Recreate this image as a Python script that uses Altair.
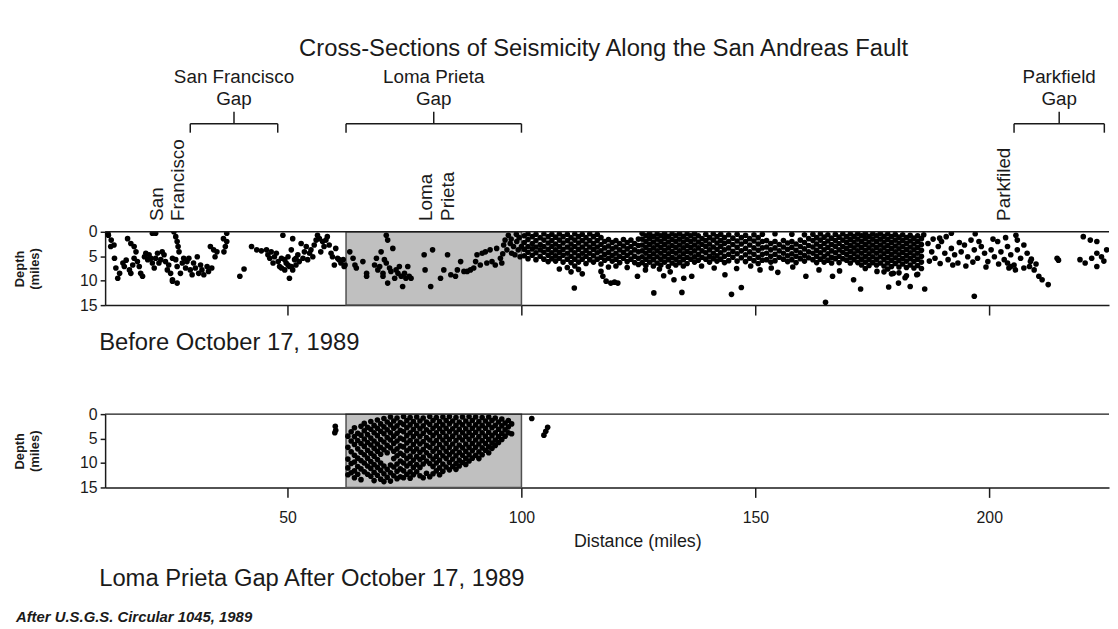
import altair as alt
import pandas as pd

# ---------------- text ----------------
TITLE = "Cross-Sections of Seismicity Along the San Andreas Fault"
SUB_BEFORE = "Before October 17, 1989"
SUB_AFTER = "Loma Prieta Gap After October 17, 1989"
SOURCE = "After U.S.G.S. Circular 1045, 1989"

# ---------------- axes ----------------
x_ticks = [50, 100, 150, 200]
y_ticks = [0, 5, 10, 15]
x_domain = [11, 225.6]
y_domain = [0, 15]

# ---------------- annotations ----------------
gap_names = ["San Francisco\nGap", "Loma Prieta\nGap", "Parkfield\nGap"]
gap_start = [29.2, 62.5, 205.3]
gap_end = [47.9, 100.0, 224.6]

place_names = ["San\nFrancisco", "Loma\nPrieta", "Parkfiled"]
place_miles = [22.0, 79.6, 203.2]

shade_start = [62.5]
shade_end = [100.0]

# ---------------- seismicity before Oct 17, 1989 (mile, depth) ----------------
before_north = [
    (11.6, 0.3), (11.7, 0.7), (12.3, 1.7), (12.9, 2.7), (12.2, 3.0), (15.8, 1.4), (16.5, 2.4),
    (17.2, 3.0), (17.6, 4.1), (13.0, 5.4), (13.3, 7.4), (14.1, 8.5), (13.7, 9.5), (14.8, 6.4),
    (15.1, 7.1), (15.5, 5.8), (16.2, 7.8), (16.5, 8.5), (16.9, 6.8), (17.2, 5.4), (17.9, 6.1),
    (18.3, 7.1), (18.6, 8.5), (19.0, 9.1), (19.4, 5.1), (19.7, 4.4), (20.1, 5.7), (20.4, 4.7),
    (20.8, 5.4), (21.1, 6.4), (21.5, 7.4), (21.8, 5.4), (22.2, 4.4), (21.1, 0.3), (21.8, 0.3),
    (22.5, 6.4), (22.9, 5.7), (23.2, 4.1), (23.6, 4.7), (23.9, 6.1), (24.3, 7.8), (24.6, 6.8),
    (25.0, 8.5), (25.4, 9.8), (25.7, 0.0), (26.1, 1.0), (26.4, 2.0), (26.6, 3.0), (26.8, 4.1),
    (25.4, 5.4), (26.1, 5.7), (26.4, 7.1), (27.1, 8.5), (27.5, 6.4), (27.8, 5.4), (28.2, 7.4),
    (28.5, 6.1), (28.9, 5.4), (29.2, 7.8), (29.6, 8.8), (29.9, 6.4), (30.3, 7.4), (30.7, 5.1),
    (31.0, 8.5), (31.4, 6.8), (31.7, 7.8), (32.1, 8.8), (25.4, 10.1), (26.4, 10.5), (32.8, 7.1),
    (33.1, 8.1), (33.5, 3.0), (33.8, 7.4), (34.2, 3.7), (34.5, 5.1), (34.9, 4.1), (36.3, 1.4),
    (36.7, 3.0), (37.0, 2.0), (36.4, 4.1), (37.0, 0.3),
    (39.8, 9.1), (40.7, 7.6), (42.3, 3.0), (43.4, 3.7), (44.4, 3.9), (45.5, 3.7), (45.8, 4.7),
    (46.2, 5.4), (46.5, 4.1), (46.9, 6.4), (47.2, 5.1), (47.6, 4.4), (48.0, 6.1), (48.3, 7.1),
    (48.7, 5.4), (49.0, 0.7), (49.4, 7.8), (49.7, 6.4), (50.1, 5.1), (50.4, 7.1), (50.4, 9.5),
    (50.8, 3.7), (51.1, 1.4), (51.5, 5.7), (51.8, 6.8), (52.2, 4.7), (52.5, 6.1), (52.9, 2.4),
    (53.3, 5.4), (53.6, 4.1), (54.0, 3.0), (54.3, 5.7), (54.7, 4.4), (55.0, 3.7), (55.4, 5.1),
    (55.7, 2.7), (56.1, 1.7), (56.4, 0.7), (56.8, 1.4), (57.1, 4.1), (57.5, 2.0), (57.8, 3.0),
    (58.2, 1.7), (58.5, 1.0), (58.9, 2.7), (59.3, 4.4), (59.6, 5.1), (60.0, 6.8), (60.3, 3.4),
    (60.7, 5.4), (61.0, 5.7), (61.4, 6.4), (62.1, 7.1), (48.7, 7.4), (49.4, 5.7), (50.8, 7.1),
    (51.1, 7.8), (51.8, 5.4), (50.1, 6.8),
]

before_loma = [
    (61.9, 5.7), (62.3, 6.8), (63.3, 4.1), (64.0, 5.4), (64.4, 6.8), (64.7, 7.4), (66.1, 6.1),
    (66.9, 8.5), (66.9, 9.1), (68.6, 6.8), (69.0, 5.4), (69.7, 7.1), (70.0, 4.1), (70.4, 8.5),
    (70.7, 5.7), (71.1, 6.4), (71.4, 10.5), (71.8, 7.4), (72.1, 8.1), (72.5, 3.4), (72.9, 9.5),
    (73.2, 7.8), (73.6, 8.5), (73.9, 7.1), (74.3, 9.1), (74.6, 11.2), (75.0, 8.5), (75.3, 9.5),
    (75.7, 7.1), (76.0, 9.1), (76.4, 9.5), (71.1, 0.7), (71.4, 1.7), (70.4, 9.1), (69.3, 7.8),
    (79.2, 4.7), (79.4, 7.8), (80.6, 11.2), (81.0, 3.7), (82.7, 9.5), (83.4, 7.8), (84.2, 4.7),
    (84.9, 8.8), (85.9, 9.1), (86.3, 7.8), (87.0, 6.1), (87.7, 8.1), (88.4, 8.1), (89.1, 7.8),
    (89.8, 7.4), (90.2, 6.1), (90.5, 4.7), (91.2, 6.8), (91.6, 4.4), (92.3, 4.1), (92.6, 6.4),
    (93.3, 3.7), (93.7, 6.1), (94.4, 6.8), (94.7, 3.4), (95.5, 5.4), (95.8, 6.4), (96.2, 2.7),
    (96.5, 1.7), (96.9, 3.7), (97.2, 0.7), (97.6, 2.4), (97.9, 4.4), (98.3, 3.0), (98.6, 4.7),
    (99.0, 2.0), (99.3, 3.7), (99.7, 5.1), (100.0, 3.0), (97.8, 1.5), (98.9, 0.5), (99.5, 1.2),
    (96.0, 4.5),
]

# dense band, listed as (mile, [depths])
band_100_125 = [
    (100.6, [0.8, 2.2, 3.6, 4.9]), (101.4, [0.4, 1.6, 3.0, 4.2, 5.5]),
    (102.3, [1.0, 2.4, 3.5, 4.8]), (103.1, [0.5, 1.8, 3.1, 4.3, 5.7]),
    (104.0, [1.2, 2.6, 3.7, 5.0]), (104.8, [0.4, 1.7, 3.0, 4.2, 5.6]),
    (105.7, [1.0, 2.3, 3.6, 4.8, 6.1]), (106.5, [0.5, 1.8, 3.0, 4.3, 5.5]),
    (107.3, [1.1, 2.5, 3.7, 4.9, 6.0]), (108.1, [0.4, 1.7, 3.0, 4.2, 5.4, 7.6]),
    (108.9, [1.0, 2.3, 3.6, 4.8, 6.2]), (109.8, [0.5, 1.8, 3.1, 4.4, 5.6, 7.3]),
    (110.6, [1.2, 2.5, 3.7, 5.0, 6.3, 8.2]), (111.4, [0.4, 1.7, 3.0, 4.3, 5.6, 7.0]),
    (112.2, [1.0, 2.3, 3.6, 4.9, 6.2, 7.7]), (113.0, [0.5, 1.8, 3.1, 4.4, 5.6, 8.6]),
    (113.8, [1.2, 2.5, 3.8, 5.0, 6.5]), (114.6, [0.4, 1.8, 3.1, 4.4, 5.7]),
    (115.4, [1.0, 2.4, 3.6, 4.9, 6.2]), (116.2, [0.5, 1.8, 3.1, 4.3, 5.6]),
    (117.0, [1.2, 2.6, 3.9, 5.2, 6.6]), (117.8, [2.0, 3.3, 4.6, 5.8]),
    (118.6, [1.6, 2.9, 4.2, 5.4, 7.2]), (119.4, [2.2, 3.5, 4.8, 6.0]),
    (120.2, [1.8, 3.1, 4.4, 5.6, 7.0]), (121.0, [2.4, 3.7, 5.0, 6.3]),
    (121.8, [1.6, 2.9, 4.2, 5.4]), (122.6, [2.2, 3.5, 4.8, 6.1, 7.3]),
    (123.4, [1.7, 3.0, 4.3, 5.6]), (124.2, [2.4, 3.7, 5.0, 6.3]),
    (125.0, [1.5, 2.8, 4.1, 5.4, 6.7]),
]

band_125_144 = [
    (125.8, [0.3, 1.5, 2.7, 3.9, 5.1, 6.3]), (126.6, [0.8, 2.0, 3.2, 4.4, 5.6, 6.9]),
    (127.4, [0.3, 1.4, 2.6, 3.8, 5.0, 6.2]), (128.2, [0.9, 2.1, 3.3, 4.5, 5.7, 7.0]),
    (129.0, [0.4, 1.5, 2.7, 3.9, 5.1, 6.4]), (129.8, [0.8, 2.0, 3.2, 4.4, 5.6, 6.8]),
    (130.6, [0.3, 1.4, 2.6, 3.8, 5.0, 6.2]), (131.4, [0.9, 2.1, 3.3, 4.5, 5.7, 7.1]),
    (132.2, [0.4, 1.6, 2.8, 4.0, 5.2, 6.4]), (133.0, [0.8, 2.0, 3.2, 4.4, 5.6, 6.8]),
    (133.8, [0.3, 1.5, 2.7, 3.9, 5.1, 6.3]), (134.6, [0.9, 2.1, 3.3, 4.5, 5.7, 7.0]),
    (135.4, [0.4, 1.6, 2.8, 4.0, 5.2, 6.5]), (136.2, [0.8, 2.0, 3.2, 4.4, 5.6]),
    (137.0, [0.3, 1.5, 2.7, 3.9, 5.1, 6.2]), (137.8, [0.8, 2.1, 3.3, 4.6, 5.8]),
    (138.6, [1.4, 2.6, 3.9, 5.2]), (139.4, [0.5, 1.8, 3.0, 4.3, 5.6]),
    (140.2, [1.2, 2.5, 3.7, 5.0, 6.2]), (141.0, [0.4, 1.7, 3.1, 4.4, 5.5]),
    (141.8, [1.0, 2.3, 3.6, 4.9, 6.0]), (142.6, [0.5, 1.8, 3.0, 4.3, 5.6]),
    (143.4, [1.2, 2.4, 3.7, 5.0, 6.3]),
]

band_144_169 = [
    (144.3, [0.6, 2.0, 3.3, 4.6, 5.9]), (145.2, [1.3, 2.6, 4.0, 5.2]),
    (146.1, [0.5, 1.9, 3.2, 4.5, 6.0]), (147.0, [1.2, 2.5, 3.9, 5.3]),
    (147.9, [0.7, 2.0, 3.4, 4.7, 6.1]), (148.8, [1.4, 2.7, 4.1, 5.4]),
    (149.7, [0.6, 1.9, 3.3, 4.6, 5.9]), (150.6, [1.2, 2.5, 3.8, 5.2, 6.5]),
    (151.5, [0.5, 2.0, 3.3, 4.6, 5.8]), (152.4, [1.8, 3.1, 4.4, 5.7]),
    (153.3, [2.4, 3.7, 5.0, 6.2]), (154.2, [0.4, 2.0, 3.3, 4.6, 5.9]),
    (155.1, [2.6, 3.9, 5.2]), (156.0, [1.8, 3.1, 4.4, 5.6]),
    (156.9, [2.3, 3.6, 4.9, 6.1]), (157.8, [0.5, 2.0, 3.2, 4.5, 5.7]),
    (158.7, [2.5, 3.8, 5.0, 6.3]), (159.6, [1.7, 3.0, 4.3, 5.5]),
    (160.5, [0.6, 2.2, 3.5, 4.8, 6.0]), (161.4, [1.4, 2.8, 4.1, 5.3]),
    (162.3, [0.5, 1.8, 3.1, 4.4, 5.7]), (163.1, [1.2, 2.5, 3.8, 5.0, 6.3]),
    (163.9, [0.4, 1.7, 3.0, 4.3, 5.6]), (164.7, [1.1, 2.4, 3.7, 5.0, 6.2]),
    (165.5, [0.6, 1.9, 3.2, 4.5, 5.8]), (166.3, [1.3, 2.6, 3.9, 5.2, 6.4]),
    (167.1, [0.5, 1.8, 3.0, 4.3, 5.5]), (167.9, [1.1, 2.4, 3.7, 5.0, 6.3]),
    (168.7, [0.4, 1.7, 3.0, 4.2, 5.5]),
]

band_169_186 = [
    (169.5, [1.0, 2.2, 3.4, 4.6, 5.8]), (170.3, [0.4, 1.6, 2.8, 4.0, 5.2, 6.4]),
    (171.1, [0.9, 2.1, 3.3, 4.5, 5.7]), (171.9, [0.3, 1.5, 2.7, 3.9, 5.1, 6.3]),
    (172.7, [0.8, 2.0, 3.2, 4.4, 5.6, 6.8]), (173.5, [0.3, 1.4, 2.6, 3.8, 5.0, 6.2]),
    (174.3, [0.9, 2.1, 3.3, 4.5, 5.7, 6.9]), (175.1, [0.4, 1.5, 2.7, 3.9, 5.1, 6.3]),
    (175.9, [0.8, 2.0, 3.2, 4.4, 5.6, 6.8]), (176.7, [0.3, 1.5, 2.7, 3.9, 5.1, 6.4]),
    (177.5, [0.9, 2.1, 3.3, 4.5, 5.7, 7.0, 8.2]), (178.3, [0.4, 1.6, 2.8, 4.0, 5.2, 6.4, 7.6]),
    (179.1, [1.0, 2.2, 3.4, 4.6, 5.8, 7.1, 8.6]), (179.9, [0.5, 1.7, 2.9, 4.1, 5.3, 6.5]),
    (180.7, [1.1, 2.3, 3.5, 4.7, 5.9, 7.2, 8.4]), (181.5, [0.6, 1.8, 3.0, 4.2, 5.4, 6.6]),
    (182.3, [1.2, 2.4, 3.6, 4.8, 6.0, 7.3, 9.0]), (183.1, [0.7, 1.9, 3.1, 4.3, 5.5, 6.8]),
    (183.9, [1.3, 2.5, 3.7, 4.9, 6.1, 7.4]), (184.7, [0.8, 2.0, 3.2, 4.4, 5.6, 6.9, 8.7]),
    (185.5, [1.4, 2.6, 3.8, 5.0, 6.2, 7.5]),
]

before_deep = [
    (111.3, 11.5), (117.0, 8.1), (117.4, 9.1), (118.1, 10.1), (119.1, 10.5), (119.9, 10.3),
    (120.6, 10.5), (124.8, 9.1), (128.3, 12.5), (130.4, 9.0), (132.6, 9.8), (134.3, 12.4),
    (134.7, 9.5), (136.4, 9.1), (143.5, 8.8), (144.9, 12.8), (147.0, 11.4), (153.4, 7.4),
    (154.8, 8.3), (160.8, 9.1), (163.6, 7.8), (165.0, 14.4), (166.5, 9.1), (171.0, 9.8),
    (172.5, 11.7), (176.0, 8.1), (178.5, 11.3), (180.6, 10.5), (183.1, 11.2), (186.2, 11.7),
    (126.5, 7.8), (129.5, 7.6), (131.8, 8.2), (138.5, 7.0), (141.2, 7.4), (146.0, 7.5),
    (149.0, 7.0), (151.0, 7.8), (158.0, 7.2), (168.0, 8.0), (173.5, 7.5), (179.5, 8.5),
    (182.0, 9.4), (184.5, 8.8), (196.8, 13.2),
]

before_south = [
    (186.9, 2.4), (187.7, 4.1), (188.4, 5.4), (189.1, 3.0), (189.8, 2.0), (190.5, 4.4),
    (191.2, 5.7), (191.9, 3.4), (192.6, 4.7), (193.3, 6.4), (194.0, 4.1), (194.7, 2.7),
    (195.4, 5.1), (196.1, 1.7), (196.8, 3.7), (197.5, 5.4), (198.3, 3.0), (199.0, 4.4),
    (199.7, 6.1), (200.4, 3.7), (201.1, 5.1), (201.8, 2.0), (202.5, 4.1), (203.2, 5.7),
    (203.9, 3.0), (204.6, 4.7), (205.3, 6.8), (206.0, 3.7), (206.7, 5.4), (207.4, 2.7),
    (208.1, 4.4), (208.8, 6.1), (187.2, 6.0), (188.0, 1.5), (189.5, 6.5), (190.8, 1.0),
    (192.2, 6.8), (193.6, 2.2), (195.0, 7.0), (196.5, 6.2), (197.8, 2.0), (199.3, 7.2),
    (200.8, 1.5), (202.0, 6.6), (203.5, 1.2), (204.2, 7.4), (205.7, 0.7), (206.0, 1.7),
    (203.9, 6.4), (204.6, 7.1), (205.6, 7.8), (207.4, 7.4), (208.6, 7.1), (209.6, 7.8),
    (210.6, 9.1), (211.3, 9.8), (212.6, 10.8), (210.0, 6.6), (209.0, 5.6), (214.5, 5.4),
    (214.8, 5.8), (220.1, 1.0), (221.6, 1.7), (223.0, 2.0), (219.4, 5.7), (220.5, 6.4),
    (221.9, 5.4), (223.0, 4.4), (224.0, 5.1), (225.1, 3.7), (223.0, 7.1), (224.5, 6.0),
    (191.9, 0.3), (189.4, 1.3), (186.0, 0.6), (197.0, 0.4),
]

# ---------------- seismicity after Oct 17, 1989 (mile, [depths]) ----------------
after_outside = [(60.2, 2.5), (60.3, 3.3), (60.1, 3.8), (102.2, 0.9), (104.8, 4.3),
                 (105.2, 3.5), (105.6, 2.7)]

after_west = [
    (62.9, [4.5, 6.8, 9.2, 11.0, 12.4]), (63.6, [3.6, 5.5, 7.7, 10.1, 12.0]),
    (64.3, [2.8, 4.6, 6.2, 8.4, 9.8, 11.6, 13.0]), (65.0, [3.9, 5.4, 7.1, 9.0, 10.7, 12.3]),
    (65.7, [2.5, 4.3, 6.0, 7.8, 9.5, 11.2, 13.4]), (66.4, [1.9, 3.4, 5.1, 6.6, 8.3, 10.0, 11.8]),
    (67.1, [2.7, 4.2, 5.8, 7.4, 9.0, 10.6, 12.3]), (67.8, [1.5, 3.1, 4.9, 6.3, 8.0, 9.7, 11.1, 12.7]),
    (68.5, [2.3, 3.8, 5.5, 7.0, 8.6, 10.3, 11.9, 13.6]), (69.2, [1.2, 2.9, 4.4, 6.1, 7.6, 9.3, 10.9, 12.5]),
    (69.9, [2.0, 3.5, 5.2, 6.8, 8.2, 10.0, 11.5, 13.3]), (70.6, [0.9, 2.6, 4.0, 5.7, 7.3, 10.6, 12.2, 13.8]),
    (71.3, [1.6, 3.2, 4.8, 6.4, 7.9, 11.3, 12.9]), (72.0, [0.6, 2.2, 3.8, 5.3, 6.9, 10.4, 12.0, 13.7]),
    (72.7, [1.4, 2.9, 4.5, 6.0, 7.6, 9.1, 10.8, 12.6]),
    (73.4, [0.8, 2.4, 3.9, 5.5, 7.1, 8.5, 10.2, 11.7, 13.2]),
    (74.1, [1.7, 3.3, 4.9, 6.5, 8.0, 9.6, 11.2, 12.8]),
    (74.8, [0.5, 2.1, 3.6, 5.2, 6.7, 8.4, 10.0, 11.6, 13.0]),
    (75.5, [1.3, 2.8, 4.4, 5.9, 7.5, 9.1, 10.6, 12.3]),
    (76.2, [0.7, 2.2, 3.8, 5.4, 7.0, 8.6, 10.1, 11.8, 13.1]),
    (76.9, [1.5, 3.1, 4.6, 6.2, 7.7, 9.4, 10.9, 12.4]),
    (77.6, [0.6, 2.3, 3.9, 5.5, 7.1, 8.7, 10.3, 11.8]),
    (78.3, [1.4, 3.0, 4.6, 6.1, 7.8, 9.3, 10.9, 12.6]),
    (79.0, [0.8, 2.4, 3.9, 5.6, 7.2, 8.8, 10.2, 13.0]),
    (79.7, [1.6, 3.2, 4.8, 6.4, 7.9, 9.6, 12.1]),
]

after_east = [
    (80.4, [0.5, 2.1, 3.7, 5.3, 6.8, 8.5, 10.1, 12.8]), (81.1, [1.3, 2.9, 4.4, 6.0, 7.6, 9.2, 10.7, 12.2]),
    (81.8, [0.7, 2.3, 3.8, 5.4, 7.0, 8.6, 10.0, 11.6]), (82.5, [1.5, 3.0, 4.6, 6.2, 7.8, 9.4, 11.0, 12.4]),
    (83.2, [0.6, 2.2, 3.7, 5.3, 6.9, 8.5, 10.2, 11.7]), (83.9, [1.3, 2.9, 4.5, 6.0, 7.6, 9.1, 10.8]),
    (84.6, [0.5, 2.0, 3.6, 5.2, 6.8, 8.3, 9.9, 11.4]), (85.3, [1.4, 3.0, 4.5, 6.1, 7.7, 9.2, 10.7]),
    (86.0, [0.7, 2.3, 3.8, 5.4, 7.0, 8.5, 10.1, 11.3]), (86.7, [1.6, 3.1, 4.7, 6.3, 7.8, 9.4, 10.6]),
    (87.4, [0.6, 2.2, 3.8, 5.3, 6.9, 8.4, 9.9]), (88.1, [1.4, 3.0, 4.5, 6.1, 7.6, 9.1, 10.3]),
    (88.8, [0.5, 2.1, 3.7, 5.2, 6.8, 8.3, 9.6]), (89.5, [1.3, 2.9, 4.4, 6.0, 7.5, 9.0]),
    (90.2, [0.6, 2.2, 3.7, 5.3, 6.8, 8.4]), (90.9, [1.5, 3.0, 4.6, 6.1, 7.7, 9.1]),
    (91.6, [0.7, 2.3, 3.8, 5.4, 6.9, 8.3]), (92.3, [1.4, 2.9, 4.5, 6.0, 7.4]),
    (93.0, [0.6, 2.1, 3.7, 5.2, 6.7, 7.9]), (93.7, [1.3, 2.8, 4.4, 5.9, 7.0]),
    (94.4, [0.8, 2.3, 3.8, 5.3, 6.4]), (95.1, [1.6, 3.1, 4.6, 5.8]),
    (95.8, [1.0, 2.4, 3.9, 5.2]), (96.5, [1.8, 3.2, 4.5]),
    (97.2, [1.3, 2.6, 3.8]), (97.9, [2.0, 4.0]),
]

# ---------------- build tables ----------------
def columns_to_pairs(cols):
    return [(m, d) for m, ds in cols for d in ds]

before_pairs = (before_north + before_loma + columns_to_pairs(band_100_125)
                + columns_to_pairs(band_125_144) + columns_to_pairs(band_144_169)
                + columns_to_pairs(band_169_186) + before_deep + before_south)
after_pairs = after_outside + columns_to_pairs(after_west) + columns_to_pairs(after_east)

before_df = pd.DataFrame(before_pairs, columns=["mile", "depth"])
after_df = pd.DataFrame(after_pairs, columns=["mile", "depth"])
gaps_df = pd.DataFrame({"name": gap_names, "start": gap_start, "end": gap_end})
places_df = pd.DataFrame({"name": place_names, "mile": place_miles})
shade_df = pd.DataFrame({"start": shade_start, "end": shade_end})

# ---------------- style ----------------
FONT = "Liberation Sans"
INK = "#1a1a1a"
W = 1013
H = 74

xscale = alt.Scale(domain=x_domain, nice=False, zero=False)
yscale = alt.Scale(domain=y_domain, reverse=True, nice=False, zero=False)

top_xaxis = alt.Axis(values=x_ticks, labels=False, title=None, tickSize=10, grid=False)
bot_xaxis = alt.Axis(values=x_ticks, title="Distance (miles)", labelFontSize=16, labelPadding=12,
                     tickSize=10, grid=False, titleX=537, titleFontSize=18,
                     titleFontWeight="normal", titlePadding=8)
yaxis = alt.Axis(values=y_ticks, title=["Depth", "(miles)"], labelFontSize=16, tickSize=5,
                 labelPadding=3, grid=False, titleFontSize=13, titleFontWeight="bold",
                 titlePadding=38, titleLineHeight=16)


def panel(df, xaxis):
    shade = alt.Chart(shade_df).mark_rect(fill="#c0c0c0", stroke="#505050", strokeWidth=1.5).encode(
        x=alt.X("start:Q", scale=xscale, axis=xaxis),
        x2="end:Q",
        y=alt.Y(datum=0, scale=yscale, axis=yaxis),
        y2=alt.Y2(datum=15),
    )
    pts = alt.Chart(df).mark_circle(size=32, color="black", opacity=1, clip=True).encode(
        x=alt.X("mile:Q", scale=xscale, axis=xaxis),
        y=alt.Y("depth:Q", scale=yscale, axis=yaxis),
    )
    top_border = alt.Chart(pd.DataFrame({"k": [0]})).mark_rule(color=INK, strokeWidth=1.5).encode(
        x=alt.value(0), x2=alt.value(W), y=alt.value(0)
    )
    return [shade, pts, top_border]


def label(text, x, y, size, align="left", style=None, weight="normal"):
    kw = dict(font=FONT, fontSize=size, align=align, baseline="middle", color=INK, fontWeight=weight)
    if style:
        kw["fontStyle"] = style
    return alt.Chart(pd.DataFrame({"t": [text]})).mark_text(**kw).encode(
        text="t:N", x=alt.value(x), y=alt.value(y)
    )


# gap brackets and labels
bracket_h = alt.Chart(gaps_df).mark_rule(color=INK, strokeWidth=1.5).encode(
    x=alt.X("start:Q", scale=xscale), x2="end:Q", y=alt.value(-109))
bracket_l = alt.Chart(gaps_df).mark_rule(color=INK, strokeWidth=1.5).encode(
    x=alt.X("start:Q", scale=xscale), y=alt.value(-109), y2=alt.value(-100))
bracket_r = alt.Chart(gaps_df).mark_rule(color=INK, strokeWidth=1.5).encode(
    x=alt.X("end:Q", scale=xscale), y=alt.value(-109), y2=alt.value(-100))
bracket_c = alt.Chart(gaps_df).transform_calculate(mid="(datum.start + datum.end) / 2").mark_rule(
    color=INK, strokeWidth=1.5).encode(
    x=alt.X("mid:Q", scale=xscale), y=alt.value(-121), y2=alt.value(-109))
gap_text = alt.Chart(gaps_df).transform_calculate(mid="(datum.start + datum.end) / 2").mark_text(
    font=FONT, fontSize=19, lineHeight=22, lineBreak="\n", align="center", baseline="middle",
    color=INK).encode(x=alt.X("mid:Q", scale=xscale), y=alt.value(-156), text="name:N")
place_text = alt.Chart(places_df).mark_text(
    font=FONT, fontSize=19, lineHeight=22, lineBreak="\n", angle=270, align="left",
    baseline="middle", color=INK).encode(
    x=alt.X("mile:Q", scale=xscale), y=alt.value(-11), text="name:N")

top = alt.layer(
    *panel(before_df, top_xaxis),
    bracket_h, bracket_l, bracket_r, bracket_c, gap_text, place_text,
    label(TITLE, 503, -184, 24, align="center"),
    label(SUB_BEFORE, -6, 112, 24),
).properties(width=W, height=H)

bottom = alt.layer(
    *panel(after_df, bot_xaxis),
    label(SUB_AFTER, -6, 166, 24),
    label(SOURCE, -90, 205, 15, style="italic", weight="bold"),
).properties(width=W, height=H)

chart = alt.vconcat(top, bottom, spacing=110, bounds="flush").properties(
    padding={"left": 5, "top": 27, "right": 0, "bottom": 0}
).configure(font=FONT).configure_view(stroke=None).configure_axis(
    domainColor=INK, domainWidth=1.5, tickColor=INK, tickWidth=1.5,
    labelColor=INK, titleColor=INK, labelFont=FONT, titleFont=FONT,
)

chart.save("out.html", embed_options={"renderer": "svg", "actions": False})
